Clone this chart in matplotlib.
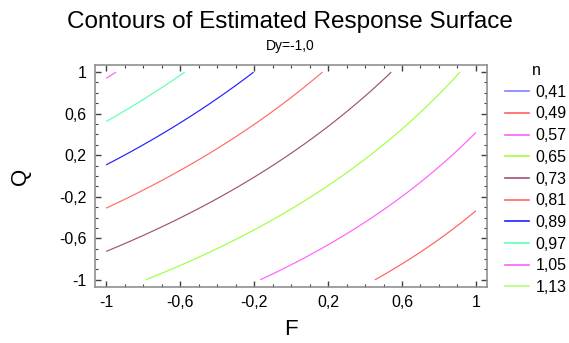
import numpy as np
import matplotlib
matplotlib.use("Agg")
import matplotlib.pyplot as plt
from matplotlib.lines import Line2D
from matplotlib.ticker import MultipleLocator

plt.rcParams['font.family'] = ['Liberation Sans', 'DejaVu Sans']

# fitted response surface n(F, Q) = b0 + bF*F + bQ*Q + bFQ*F*Q (Dy = -1,0)
coef_names = ["b0", "bF", "bQ", "bFQ"]
coef_vals = [0.6975, -0.172, 0.149, -0.043]

levels = [0.41, 0.49, 0.57, 0.65, 0.73, 0.81, 0.89, 0.97, 1.05, 1.13]
level_labels = ["0,41", "0,49", "0,57", "0,65", "0,73", "0,81", "0,89", "0,97", "1,05", "1,13"]
level_colors = ["#8080ff", "#ff6060", "#ff60ff", "#a0ff40", "#a0507a",
                "#ff6a6a", "#2020ff", "#60ffb0", "#ff60ff", "#b0ff80"]

tick_vals = [-1, -0.6, -0.2, 0.2, 0.6, 1]
tick_labels = ["-1", "-0,6", "-0,2", "0,2", "0,6", "1"]

b = dict(zip(coef_names, coef_vals))
F = np.linspace(-1, 1, 301)
Q = np.linspace(-1, 1, 301)
FF, QQ = np.meshgrid(F, Q)
N = b["b0"] + b["bF"] * FF + b["bQ"] * QQ + b["bFQ"] * FF * QQ

fig = plt.figure(figsize=(5.69, 3.43), dpi=100)
ax = fig.add_axes([0.167, 0.163, 0.689, 0.648])

ax.contour(FF, QQ, N, levels=levels, colors=level_colors, linewidths=0.85)

ax.set_xlim(-1.06, 1.06)
ax.set_ylim(-1.07, 1.07)
ax.set_xticks(tick_vals)
ax.set_xticklabels(tick_labels)
ax.set_yticks(tick_vals)
ax.set_yticklabels(tick_labels)
ax.xaxis.set_minor_locator(MultipleLocator(0.1))
ax.yaxis.set_minor_locator(MultipleLocator(0.1))
ax.tick_params(which='both', direction='in', top=True, right=True,
               color='#404040', labelsize=11.5, pad=6)
ax.tick_params(which='major', length=4, width=1)
ax.tick_params(which='minor', length=2.5, width=0.8)
for s in ax.spines.values():
    s.set_color('#909090')
    s.set_linewidth(1.2)

ax.set_xlabel("F", fontsize=16, labelpad=6)
ax.set_ylabel("Q", fontsize=16, labelpad=20)

fig.text(0.51, 0.935, "Contours of Estimated Response Surface", ha='center', va='center', fontsize=17.5)
fig.text(0.51, 0.866, "Dy=-1,0", ha='center', va='center', fontsize=10)

handles = [Line2D([], [], color=c, lw=1.2) for c in level_colors]
leg = fig.legend(handles, level_labels, title="n", loc='upper left',
                 bbox_to_anchor=(0.877, 0.835), bbox_transform=fig.transFigure,
                 frameon=False, fontsize=11.5, title_fontsize=11.5,
                 handlelength=1.45, handletextpad=0.45,
                 labelspacing=0.42, borderaxespad=0.0)

fig.savefig("out.png", dpi=100)
